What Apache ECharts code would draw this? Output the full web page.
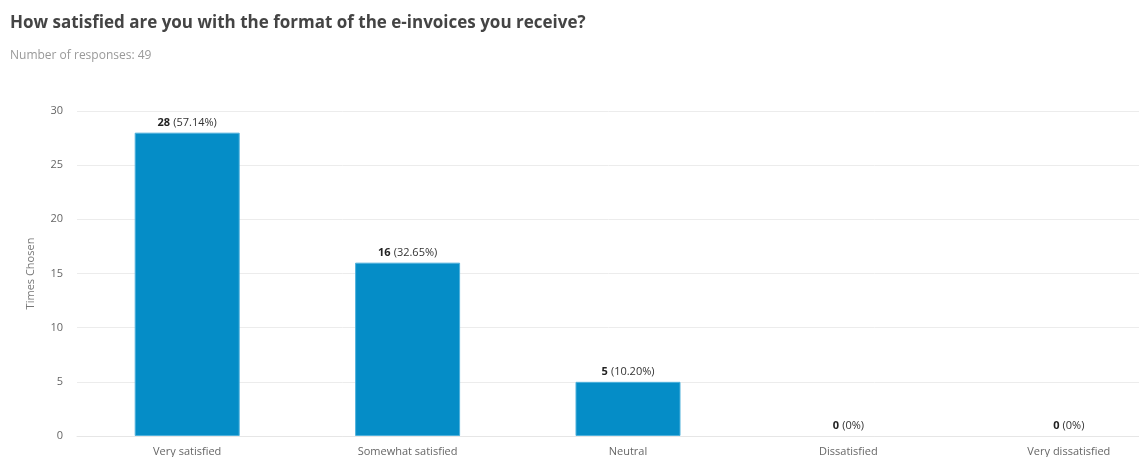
<!DOCTYPE html>
<html>
<head>
<meta charset="utf-8">
<script src="https://cdn.jsdelivr.net/npm/echarts@6/dist/echarts.min.js"></script>
<style>
  html, body { margin: 0; padding: 0; background: #fff; }
  #chart { width: 1139px; height: 457px; }
</style>
</head>
<body>
<div id="chart"></div>
<script>
// Survey answers and counts
const categories = ['Very satisfied', 'Somewhat satisfied', 'Neutral', 'Dissatisfied', 'Very dissatisfied'];
const counts = [28, 16, 5, 0, 0];
const percents = ['57.14%', '32.65%', '10.20%', '0%', '0%'];
const totalResponses = 49;
const yTicks = [0, 5, 10, 15, 20, 25, 30];

const chart = echarts.init(document.getElementById('chart'), null, { renderer: 'canvas' });

const FONT = '"Open Sans", "Noto Sans", sans-serif';

// zero-height bars get no outline
const barData = counts.map(v => ({
  value: v,
  itemStyle: v === 0 ? { borderWidth: 0 } : {}
}));

chart.setOption({
  animation: false,
  backgroundColor: '#ffffff',
  textStyle: { fontFamily: FONT },
  title: {
    text: 'How satisfied are you with the format of the e-invoices you receive?',
    subtext: 'Number of responses: ' + totalResponses,
    left: 5,
    top: 10,
    itemGap: 18,
    textStyle: { fontFamily: FONT, fontSize: 17, fontWeight: 'bold', color: '#444444' },
    subtextStyle: { fontFamily: FONT, fontSize: 12, color: '#999999' }
  },
  // plot area runs past the right edge of the page
  grid: {
    left: 77, width: 1102, top: 111, bottom: 21,
    containLabel: false,
    outerBoundsMode: 'none'
  },
  xAxis: {
    type: 'category',
    data: categories,
    axisTick: { show: false },
    axisLine: { show: true, lineStyle: { color: '#e6e6e6', width: 1 } },
    axisLabel: { color: '#666666', fontSize: 11, margin: 10, fontFamily: FONT }
  },
  yAxis: {
    type: 'value',
    min: yTicks[0],
    max: yTicks[yTicks.length - 1],
    interval: yTicks[1] - yTicks[0],
    name: 'Times Chosen',
    nameLocation: 'middle',
    nameGap: 41,
    nameTextStyle: { color: '#777777', fontSize: 11, fontFamily: FONT },
    axisLine: { show: false },
    axisTick: { show: false },
    axisLabel: { color: '#666666', fontSize: 11, margin: 14, fontFamily: FONT },
    splitLine: { lineStyle: { color: '#ececec', width: 1 } }
  },
  series: [{
    type: 'bar',
    data: barData,
    barWidth: 105,
    itemStyle: { color: '#058dc7', borderColor: '#4fb1dc', borderWidth: 1 },
    label: {
      show: true,
      position: 'top',
      distance: 4,
      formatter: p => '{b|' + p.value + '} {n|(' + percents[p.dataIndex] + ')}',
      rich: {
        b: { fontWeight: 'bold', fontSize: 11, color: '#222222', fontFamily: FONT },
        n: { fontSize: 11, color: '#333333', fontFamily: FONT }
      }
    }
  }]
});
</script>
</body>
</html>
